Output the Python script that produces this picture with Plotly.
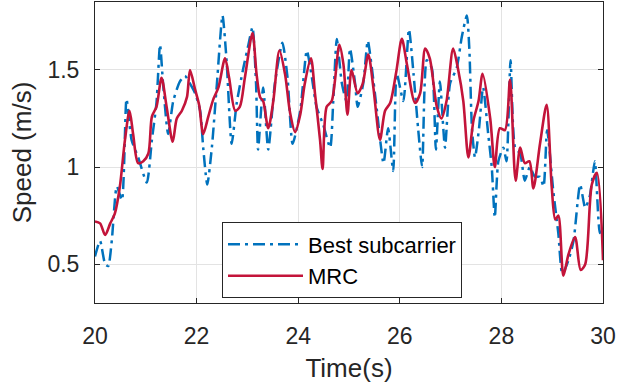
import plotly.graph_objects as go

# MRC (red, solid)
mrc_t = [20.00, 20.10, 20.20, 20.30, 20.39, 20.49, 20.59, 20.68, 20.75, 20.85, 20.95, 21.05, 21.12, 21.21,
         21.31, 21.41, 21.53, 21.61, 21.71, 21.81, 21.87, 21.97, 22.05, 22.13, 22.23, 22.33, 22.43, 22.56,
         22.64, 22.76, 22.85, 22.95, 23.10, 23.18, 23.25, 23.31, 23.41, 23.51, 23.63, 23.74, 23.84, 23.94,
         24.04, 24.13, 24.25, 24.33, 24.43, 24.48, 24.56, 24.66, 24.81, 24.89, 24.97, 25.05, 25.17, 25.27,
         25.38, 25.48, 25.61, 25.71, 25.81, 25.93, 26.04, 26.14, 26.30, 26.40, 26.50, 26.59, 26.73, 26.82,
         26.92, 27.05, 27.15, 27.25, 27.35, 27.45, 27.55, 27.63, 27.78, 27.87, 27.97, 28.07, 28.17, 28.28,
         28.37, 28.46, 28.55, 28.63, 28.76, 28.89, 28.99, 29.06, 29.12, 29.22, 29.32, 29.45, 29.56, 29.65,
         29.78, 29.88, 30.00]
mrc_v = [0.72, 0.71, 0.65, 0.71, 0.76, 0.90, 1.14, 1.29, 1.17, 1.02, 1.03, 1.07, 1.26, 1.31,
         1.46, 1.31, 1.13, 1.25, 1.29, 1.36, 1.50, 1.40, 1.32, 1.17, 1.26, 1.35, 1.41, 1.56,
         1.46, 1.29, 1.31, 1.46, 1.69, 1.48, 1.36, 1.34, 1.20, 1.34, 1.60, 1.48, 1.28, 1.18,
         1.27, 1.43, 1.56, 1.38, 1.14, 0.99, 1.31, 1.34, 1.63, 1.53, 1.27, 1.50, 1.38, 1.43,
         1.58, 1.41, 1.14, 1.29, 1.33, 1.49, 1.66, 1.53, 1.33, 1.38, 1.61, 1.56, 1.31, 1.25,
         1.34, 1.61, 1.50, 1.34, 1.05, 1.24, 1.34, 1.48, 1.25, 1.00, 1.20, 1.19, 1.45, 0.93,
         1.10, 1.02, 1.03, 0.89, 1.12, 1.32, 0.90, 0.73, 0.75, 0.44, 0.55, 0.64, 0.47, 0.50,
         0.91, 0.97, 0.52]

# Best subcarrier (blue, dash-dot)
best_t = [20.00, 20.10, 20.20, 20.26, 20.33, 20.43, 20.53, 20.62, 20.72, 20.85, 21.02, 21.12, 21.21, 21.28,
          21.34, 21.44, 21.54, 21.67, 21.77, 21.87, 21.97, 22.07, 22.13, 22.21, 22.30, 22.40, 22.51, 22.59,
          22.69, 22.79, 22.92, 23.02, 23.10, 23.17, 23.21, 23.31, 23.41, 23.54, 23.69, 23.79, 23.89, 24.04,
          24.17, 24.27, 24.36, 24.49, 24.63, 24.69, 24.76, 24.86, 24.95, 25.02, 25.12, 25.17, 25.28, 25.37,
          25.45, 25.55, 25.68, 25.77, 25.87, 25.94, 26.07, 26.18, 26.27, 26.36, 26.44, 26.53, 26.63, 26.71,
          26.79, 26.89, 26.99, 27.12, 27.22, 27.32, 27.37, 27.42, 27.48, 27.56, 27.64, 27.74, 27.81, 27.87,
          27.94, 28.04, 28.10, 28.18, 28.27, 28.37, 28.46, 28.56, 28.66, 28.76, 28.83, 28.90, 29.02, 29.12,
          29.20, 29.32, 29.42, 29.55, 29.65, 29.74, 29.84, 29.94, 30.00]
best_v = [0.54, 0.62, 0.50, 0.49, 0.62, 0.90, 0.83, 1.35, 1.14, 1.05, 0.92, 1.14, 1.33, 1.63,
          1.43, 1.17, 1.34, 1.44, 1.47, 1.43, 1.38, 1.29, 1.10, 0.91, 1.10, 1.43, 1.78, 1.55,
          1.12, 1.33, 1.51, 1.63, 1.72, 1.43, 1.09, 1.41, 1.09, 1.43, 1.64, 1.46, 1.12, 1.29,
          1.60, 1.46, 1.31, 1.22, 1.10, 1.34, 1.66, 1.43, 1.34, 1.61, 1.43, 1.31, 1.43, 1.65,
          1.51, 1.29, 1.02, 1.20, 0.98, 1.48, 1.34, 1.71, 1.48, 1.20, 1.00, 1.55, 1.51, 1.09,
          1.44, 1.10, 1.43, 1.51, 1.67, 1.78, 1.60, 1.20, 1.05, 1.20, 1.41, 1.17, 1.00, 0.74,
          1.03, 1.10, 1.03, 1.55, 1.10, 1.07, 0.93, 1.00, 0.95, 0.95, 0.90, 1.19, 0.88, 0.66,
          0.45, 0.52, 0.62, 0.91, 0.79, 0.85, 1.03, 0.66, 0.69]

x_ticks = [20, 22, 24, 26, 28, 30]
y_ticks = [0.5, 1, 1.5]
y_tick_labels = ["0.5", "1", "1.5"]

FONT = "Liberation Sans, Arial, sans-serif"
AX = "#262626"

fig = go.Figure()
fig.add_trace(go.Scatter(x=best_t, y=best_v, mode="lines", name="Best subcarrier",
                         line=dict(color="#0072BD", width=2.5, dash="12px,5px,3px,5px", shape="spline", smoothing=0.6)))
fig.add_trace(go.Scatter(x=mrc_t, y=mrc_v, mode="lines", name="MRC",
                         line=dict(color="#C3143A", width=2.6, shape="spline", smoothing=0.8)))

fig.update_layout(
    width=634, height=390,
    margin=dict(l=95, r=31, t=2, b=87, autoexpand=False),
    paper_bgcolor="white", plot_bgcolor="white",
    font=dict(family=FONT, size=23, color=AX),
    showlegend=True,
    legend=dict(x=0.25, y=0.268, xanchor="left", yanchor="top",
                bgcolor="white", bordercolor=AX, borderwidth=1,
                font=dict(family=FONT, size=22, color="black"),
                itemwidth=75, tracegroupgap=0),
    xaxis=dict(range=[20, 30], tickvals=x_ticks, ticks="inside", ticklen=5, tickcolor=AX,
               showline=True, linecolor=AX, linewidth=1, mirror="ticks", automargin=False,
               showgrid=True, gridcolor="#E3E3E3", gridwidth=1, zeroline=False,
               tickfont=dict(size=23, color=AX), ticklabelstandoff=12,
               title=dict(text="Time(s)", font=dict(size=26, color=AX), standoff=11)),
    yaxis=dict(range=[0.3, 1.85], tickvals=y_ticks, ticktext=y_tick_labels, ticks="inside", ticklen=5, tickcolor=AX,
               showline=True, linecolor=AX, linewidth=1, mirror="ticks", automargin=False,
               showgrid=True, gridcolor="#E3E3E3", gridwidth=1, zeroline=False,
               tickfont=dict(size=23, color=AX), ticklabelstandoff=10,
               title=dict(text="Speed (m/s)", font=dict(size=26, color=AX), standoff=8)),
)

fig.write_html("out.html", config={"displayModeBar": False},
               post_script="document.body.style.margin='0';document.body.style.overflow='hidden';")
